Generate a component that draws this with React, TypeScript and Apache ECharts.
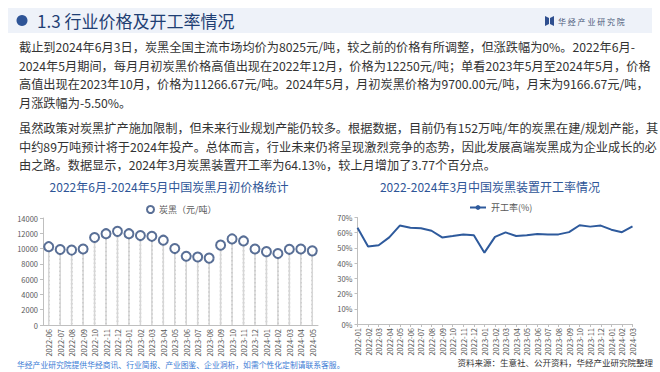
import React, { useEffect, useRef } from "react";
import * as echarts from "echarts";

const leftCategories = [
  "2022-06", "2022-07", "2022-08", "2022-09", "2022-10", "2022-11", "2022-12",
  "2023-01", "2023-02", "2023-03", "2023-04", "2023-05", "2023-06", "2023-07",
  "2023-08", "2023-09", "2023-10", "2023-11", "2023-12", "2024-01", "2024-02",
  "2024-03", "2024-04", "2024-05",
];
const priceValues = [
  10250, 9870, 9800, 9950, 11450, 11950, 12250, 11950, 11700, 11600, 11100, 10000,
  9000, 8900, 8750, 10450, 11266.67, 11000, 9950, 9600, 9350, 9900, 9950, 9700,
];
const leftTicks = [0, 2000, 4000, 6000, 8000, 10000, 12000, 14000];

const rightCategories = [
  "2022-01", "2022-02", "2022-03", "2022-04", "2022-05", "2022-06", "2022-07",
  "2022-08", "2022-09", "2022-10", "2022-11", "2022-12", "2023-01", "2023-02",
  "2023-03", "2023-04", "2023-05", "2023-06", "2023-07", "2023-08", "2023-09",
  "2023-10", "2023-11", "2023-12", "2024-01", "2024-02", "2024-03",
];
const rateValues = [
  63.3, 50.9, 51.8, 56.9, 64.7, 63.3, 62.9, 61.3, 56.9, 57.8, 58.9, 58.4, 46.9,
  57.3, 60.2, 57.8, 58.4, 59.1, 58.9, 58.9, 60.4, 64.9, 64.0, 64.7, 62.0, 60.36,
  64.13,
];
const rightTicks = [0, 10, 20, 30, 40, 50, 60, 70];

const headerTitle = "1.3 行业价格及开工率情况";
const logoText = "华 经 产 业 研 究 院";
const paragraph1 = [
  "截止到2024年6月3日，炭黑全国主流市场均价为8025元/吨，较之前的价格有所调整，但涨跌幅为0%。2022年6月-",
  "2024年5月期间，每月月初炭黑价格高值出现在2022年12月，价格为12250元/吨；单看2023年5月至2024年5月，价格",
  "高值出现在2023年10月，价格为11266.67元/吨。2024年5月，月初炭黑价格为9700.00元/吨，月末为9166.67元/吨，",
  "月涨跌幅为-5.50%。",
];
const paragraph2 = [
  "虽然政策对炭黑扩产施加限制，但未来行业规划产能仍较多。根据数据，目前仍有152万吨/年的炭黑在建/规划产能，其",
  "中约89万吨预计将于2024年投产。总体而言，行业未来仍将呈现激烈竞争的态势，因此发展高端炭黑成为企业成长的必",
  "由之路。数据显示，2024年3月炭黑装置开工率为64.13%，较上月增加了3.77个百分点。",
];
const leftTitle = "2022年6月-2024年5月中国炭黑月初价格统计";
const rightTitle = "2022-2024年3月中国炭黑装置开工率情况";
const leftSeriesName = "炭黑（元/吨）";
const rightSeriesName = "开工率(%)";
const leftFooter = "华经产业研究院提供华经商讯、行业简报、产业图鉴、企业洞析，如需个性化定制请联系客服。";
const rightFooter = "资料来源：生意社、公开资料，华经产业研究院整理";

const FONT = '"Noto Sans CJK SC", "Noto Sans", sans-serif';

export default function App() {
  const ref = useRef<HTMLDivElement>(null);
  useEffect(() => {
    document.body.style.margin = "0";
    const chart = echarts.init(ref.current!, undefined, { renderer: "svg" });
    const textEl = (text: string, x: number, y: number, size: number, fill: string, align = "left", weight = "normal") => ({
      type: "text",
      x,
      y,
      silent: true,
      style: {
        text,
        fill,
        font: `${weight} ${size}px ${FONT}`,
        align,
        verticalAlign: "middle",
      },
    });
    const graphics: any[] = [
      { type: "rect", shape: { x: 8, y: 8, width: 644, height: 25 }, style: { fill: "#eef2f9" }, silent: true },
      { type: "circle", shape: { cx: 22, cy: 20.5, r: 5.5 }, style: { fill: "#2f5597" }, silent: true },
      textEl(headerTitle, 37, 20.5, 17, "#1f3f74"),
      { type: "polygon", shape: { points: [[545, 16], [549, 18], [549, 24], [545, 26]] }, style: { fill: "#2f4f8f" }, silent: true },
      { type: "polygon", shape: { points: [[550, 18], [554, 16], [554, 26], [550, 24]] }, style: { fill: "#2f4f8f" }, silent: true },
      textEl(logoText, 558, 21, 8, "#4a5a7a"),
    ];
    paragraph1.forEach((l, i) => graphics.push(textEl(l, 19, 47 + i * 18.5, 12.2, "#333333")));
    paragraph2.forEach((l, i) => graphics.push(textEl(l, 19, 128 + i * 18.5, 12.2, "#333333")));
    graphics.push(textEl(leftTitle, 169, 186, 12, "#2e5597", "center"));
    graphics.push(textEl(rightTitle, 490, 186, 12, "#2e5597", "center"));
    graphics.push(textEl(leftFooter, 17, 364, 7.8, "#3a7bd5"));
    graphics.push(textEl(rightFooter, 653, 362, 8.5, "#333333", "right"));

    const axisLabelX = { rotate: 90, fontSize: 7.5, color: "#595959", interval: 0, margin: 4, fontFamily: FONT };
    const axisLabelY = { fontSize: 7.5, color: "#595959", margin: 5, fontFamily: FONT };
    const axisLine = { show: true, lineStyle: { color: "#bfbfbf" } };

    chart.setOption({
      animation: false,
      textStyle: { fontFamily: FONT },
      graphic: graphics,
      legend: [
        {
          data: [{ name: leftSeriesName, icon: "circle" }],
          left: 141,
          top: 200,
          itemWidth: 7,
          itemHeight: 7,
          itemGap: 4,
          textStyle: { fontSize: 9, color: "#595959" },
        },
        {
          data: [rightSeriesName],
          left: 464,
          top: 198,
          itemWidth: 16,
          itemHeight: 6,
          textStyle: { fontSize: 9, color: "#595959" },
        },
      ],
      grid: [
        { left: 43, top: 218, width: 275, height: 107 },
        { left: 357.5, top: 217.5, width: 275, height: 106.5 },
      ],
      xAxis: [
        {
          type: "category",
          gridIndex: 0,
          data: leftCategories,
          boundaryGap: true,
          axisLine,
          axisTick: { show: false },
          axisLabel: axisLabelX,
        },
        {
          type: "category",
          gridIndex: 1,
          data: rightCategories,
          boundaryGap: false,
          axisLine,
          axisTick: { show: true, lineStyle: { color: "#bfbfbf" }, length: 3 },
          axisLabel: axisLabelX,
        },
      ],
      yAxis: [
        {
          type: "value",
          gridIndex: 0,
          min: leftTicks[0],
          max: leftTicks[leftTicks.length - 1],
          interval: leftTicks[1] - leftTicks[0],
          axisLine,
          axisTick: { show: true, lineStyle: { color: "#bfbfbf" }, length: 3 },
          splitLine: { show: false },
          axisLabel: { ...axisLabelY, formatter: (v: number) => String(v) },
        },
        {
          type: "value",
          gridIndex: 1,
          min: rightTicks[0],
          max: rightTicks[rightTicks.length - 1],
          interval: rightTicks[1] - rightTicks[0],
          axisLine,
          axisTick: { show: true, lineStyle: { color: "#bfbfbf" }, length: 3 },
          splitLine: { show: false },
          axisLabel: { ...axisLabelY, formatter: "{value}%" },
        },
      ],
      series: [
        {
          type: "bar",
          xAxisIndex: 0,
          yAxisIndex: 0,
          data: priceValues,
          barWidth: 1.5,
          itemStyle: { color: "#d6d6d6" },
        },
        {
          type: "custom",
          xAxisIndex: 0,
          yAxisIndex: 0,
          data: priceValues.map((v, i) => [i, v]),
          renderItem: (params: any, api: any) => {
            const idx = api.value(0);
            const top = api.coord([idx, api.value(1)]);
            const bottom = api.coord([idx, 0]);
            return {
              type: "line",
              shape: { x1: top[0], y1: top[1] + 5, x2: bottom[0], y2: bottom[1] - 1 },
              style: { stroke: "#a0a0a0", lineWidth: 1.5, lineDash: [1.5, 2.5] },
            };
          },
        },
        {
          name: leftSeriesName,
          type: "scatter",
          xAxisIndex: 0,
          yAxisIndex: 0,
          data: priceValues,
          symbol: "circle",
          symbolSize: 9,
          itemStyle: { color: "#ffffff", borderColor: "#2f4b7c", borderWidth: 2 },
          z: 3,
        },
        {
          name: rightSeriesName,
          type: "line",
          xAxisIndex: 1,
          yAxisIndex: 1,
          data: rateValues,
          symbol: "none",
          lineStyle: { color: "#2e5a9c", width: 2 },
          itemStyle: { color: "#2e5a9c" },
        },
      ],
    });
    return () => chart.dispose();
  }, []);
  return <div ref={ref} style={{ width: 660, height: 372, position: "absolute", left: 0, top: 0, background: "#ffffff" }} />;
}
